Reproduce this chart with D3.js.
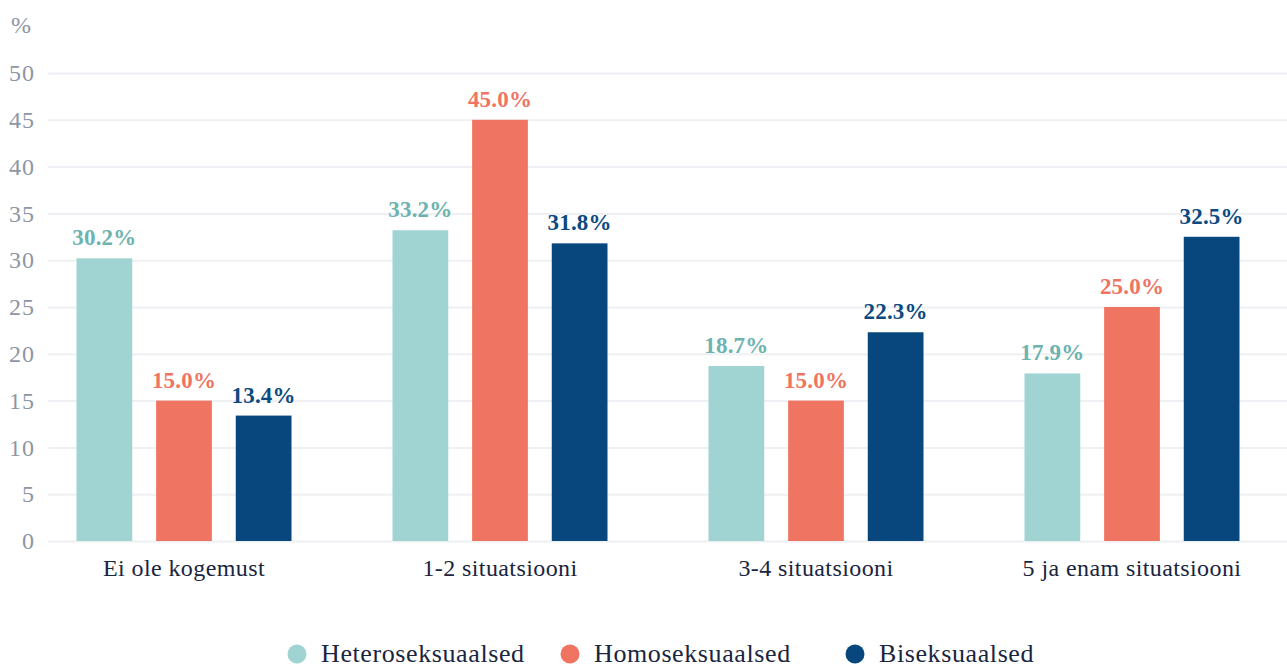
<!DOCTYPE html>
<html>
<head>
<meta charset="utf-8">
<script src="https://cdn.jsdelivr.net/npm/d3@7"></script>
<style>
  body { margin: 0; background: #fff; }
  svg text { font-family: "Liberation Serif", "DejaVu Serif", serif; }
</style>
</head>
<body>
<div id="chart"></div>
<script>
// data
var categories = ["Ei ole kogemust", "1-2 situatsiooni", "3-4 situatsiooni", "5 ja enam situatsiooni"];
var seriesNames = ["Heteroseksuaalsed", "Homoseksuaalsed", "Biseksuaalsed"];
var hetero = [30.2, 33.2, 18.7, 17.9];
var homo = [15.0, 45.0, 15.0, 25.0];
var bi = [13.4, 31.8, 22.3, 32.5];
var yTicks = [0, 5, 10, 15, 20, 25, 30, 35, 40, 45, 50];

var barColors = ["#a0d4d3", "#f07462", "#08477e"];
var labelColors = ["#6db3b0", "#f07462", "#0b4a80"];
var fontFam = "'Liberation Serif', 'DejaVu Serif', serif";

var svgWidth = 1287;
var svgHeight = 668;
var margin = { top: 73, right: 0, bottom: 127, left: 48 };
var width = svgWidth - margin.left - margin.right;
var height = svgHeight - margin.top - margin.bottom;

var svg = d3.select("#chart")
  .append("svg")
  .attr("width", svgWidth)
  .attr("height", svgHeight)
  .attr("font-family", fontFam);

var chartGroup = svg.append("g")
  .attr("transform", `translate(${margin.left}, ${margin.top})`);

var allSeries = [hetero, homo, bi];
var rows = categories.map((c, i) => ({
  cat: c,
  vals: allSeries.map((s, k) => ({ key: seriesNames[k], k: k, v: s[i] }))
}));

// scales
var x0 = d3.scaleBand()
  .domain(categories)
  .range([-22, 1242]);

var x1 = d3.scaleBand()
  .domain(seriesNames)
  .range([0, 215])
  .paddingInner(0.3);

var yScale = d3.scaleLinear()
  .domain([0, 50])
  .range([height, 0]);

// gridlines + tick labels
var yAxis = d3.axisLeft(yScale)
  .tickValues(yTicks)
  .tickSize(-width)
  .tickPadding(13)
  .tickFormat(d3.format("d"));

var yG = chartGroup.append("g").call(yAxis)
  .attr("font-family", fontFam);
yG.select(".domain").remove();
yG.selectAll(".tick line")
  .attr("stroke", "#eef0f3")
  .attr("stroke-width", 2);
yG.selectAll(".tick text")
  .attr("fill", "#8d96a5")
  .attr("font-size", 24)
  .attr("letter-spacing", 1);

svg.append("text")
  .attr("x", 11)
  .attr("y", 33)
  .attr("fill", "#8d96a5")
  .attr("font-size", 24)
  .text("%");

// bars
var groups = chartGroup.selectAll(".grp")
  .data(rows)
  .enter().append("g")
  .attr("class", "grp")
  .attr("transform", d => `translate(${x0(d.cat) + x0.bandwidth() / 2 - 107.5}, 0)`);

groups.selectAll("rect")
  .data(d => d.vals)
  .enter().append("rect")
  .attr("x", d => x1(d.key))
  .attr("y", d => yScale(d.v))
  .attr("width", x1.bandwidth())
  .attr("height", d => height - yScale(d.v))
  .attr("fill", d => barColors[d.k]);

groups.selectAll(".val")
  .data(d => d.vals)
  .enter().append("text")
  .attr("class", "val")
  .attr("x", d => x1(d.key) + x1.bandwidth() / 2)
  .attr("y", d => yScale(d.v) - 13)
  .attr("text-anchor", "middle")
  .attr("font-size", 23)
  .attr("letter-spacing", 0.2)
  .attr("font-weight", "bold")
  .attr("fill", d => labelColors[d.k])
  .text(d => d.v.toFixed(1) + "%");

// category labels
chartGroup.selectAll(".cat")
  .data(categories)
  .enter().append("text")
  .attr("class", "cat")
  .attr("x", d => x0(d) + x0.bandwidth() / 2)
  .attr("y", height + 35)
  .attr("text-anchor", "middle")
  .attr("font-size", 24)
  .attr("letter-spacing", 0.4)
  .attr("fill", "#1a2540")
  .text(d => d);

// legend
var legend = svg.append("g")
  .attr("transform", "translate(0, 654)");

var legendX = [297, 570, 855];
var items = legend.selectAll(".leg")
  .data(seriesNames)
  .enter().append("g")
  .attr("class", "leg")
  .attr("transform", (d, i) => `translate(${legendX[i]}, 0)`);

items.append("circle")
  .attr("r", 9.5)
  .attr("fill", (d, i) => barColors[i]);

items.append("text")
  .attr("x", 24)
  .attr("y", 8)
  .attr("font-size", 26)
  .attr("letter-spacing", 0.6)
  .attr("fill", "#1a2540")
  .text(d => d);
</script>
</body>
</html>
